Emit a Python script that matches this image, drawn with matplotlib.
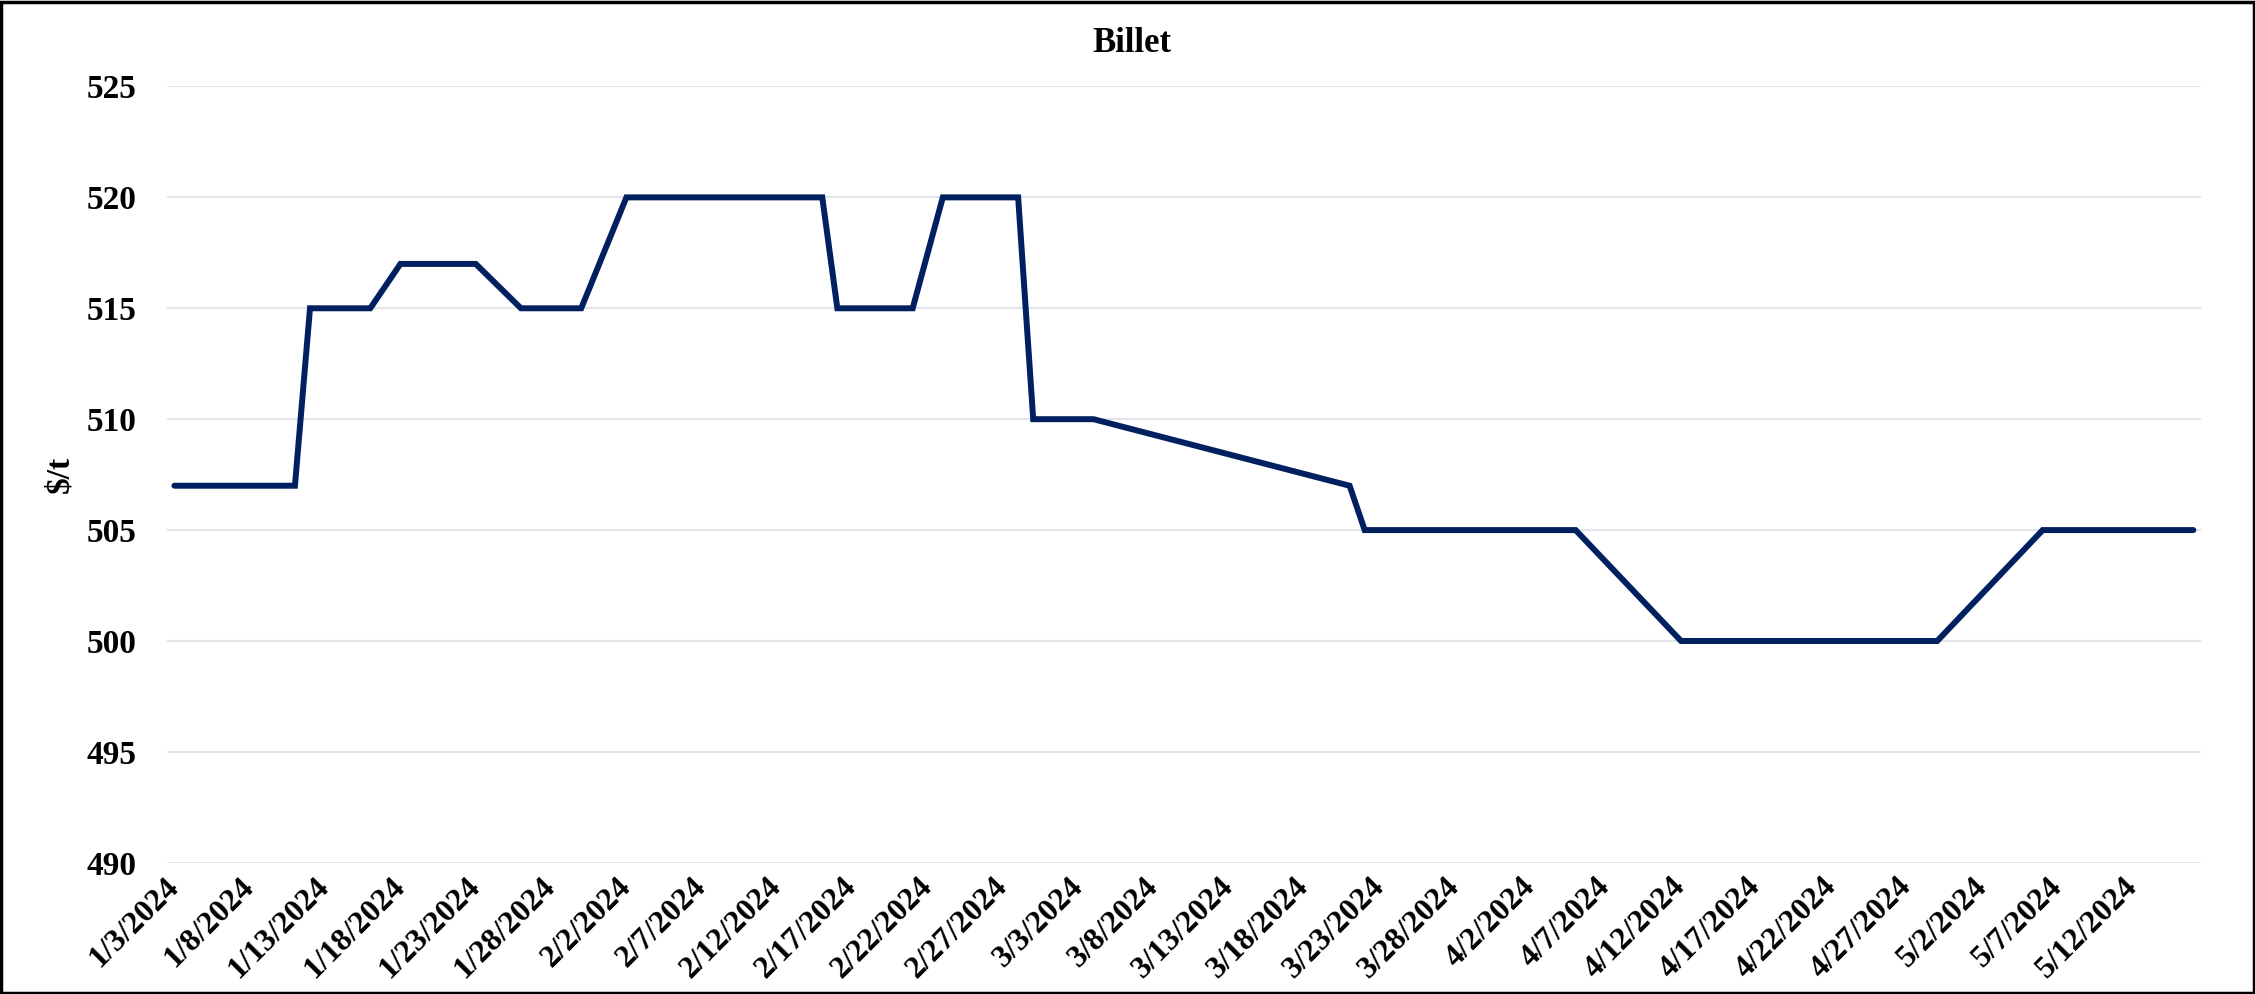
import pandas as pd
import numpy as np
import matplotlib.pyplot as plt
import matplotlib.dates as mdates
from matplotlib.patches import Rectangle

# Billet price points ($/t)
dates = ['2024-01-03', '2024-01-11', '2024-01-12', '2024-01-16', '2024-01-18',
         '2024-01-23', '2024-01-26', '2024-01-30', '2024-02-02', '2024-02-15',
         '2024-02-16', '2024-02-21', '2024-02-23', '2024-02-28', '2024-02-29',
         '2024-03-04', '2024-03-21', '2024-03-22', '2024-04-05', '2024-04-12',
         '2024-04-29', '2024-05-06', '2024-05-16']
prices = [507, 507, 515, 515, 517,
          517, 515, 515, 520, 520,
          515, 515, 520, 520, 510,
          510, 507, 505, 505, 500,
          500, 505, 505]

y_ticks = [490, 495, 500, 505, 510, 515, 520, 525]
tick_start = '2024-01-03'
tick_end = '2024-05-12'

df = pd.DataFrame({'date': pd.to_datetime(dates), 'price': prices})

plt.rcParams['font.family'] = ['Liberation Serif', 'DejaVu Serif']
plt.rcParams['font.weight'] = 'bold'

fig = plt.figure(figsize=(22.55, 9.94), dpi=100)
ax = fig.add_axes([0.074, 0.132, 0.902, 0.781])

ax.plot(df['date'], df['price'], color='#002060', lw=4.3,
        solid_joinstyle='miter', solid_capstyle='round')

# Axis range: half a day padding on each side like Excel's date axis
half_day = pd.Timedelta(hours=12)
ax.set_xlim(df['date'].iloc[0] - half_day, df['date'].iloc[-1] + half_day)
ax.set_ylim(y_ticks[0], y_ticks[-1])

xt = pd.date_range(tick_start, tick_end, freq='5D')
ax.set_xticks(xt)
ax.set_xticklabels([f'{d.month}/{d.day}/{d.year}' for d in xt],
                   rotation=45, ha='right', va='center', rotation_mode='anchor',
                   fontsize=23, fontweight='bold')
ax.set_yticks(y_ticks)
ax.set_yticklabels([str(v) for v in y_ticks], fontsize=24, fontweight='bold')

ax.tick_params(axis='both', length=0)
ax.tick_params(axis='x', pad=14)
ax.tick_params(axis='y', pad=22)

ax.grid(axis='y', color='#E1E4EA', lw=1.5)
ax.set_axisbelow(True)
for s in ax.spines.values():
    s.set_visible(False)

ax.set_ylabel('$/t', fontsize=24, fontweight='bold', labelpad=8)
fig.text(0.502, 0.956, 'Billet', ha='center', va='center',
         fontsize=25, fontweight='bold')

# Black frame around the whole picture
fig.patches.append(Rectangle((0.0005, 0.001), 0.999, 0.997, transform=fig.transFigure,
                             fill=False, edgecolor='black', lw=2.5))

fig.savefig('out.png', dpi=100)
